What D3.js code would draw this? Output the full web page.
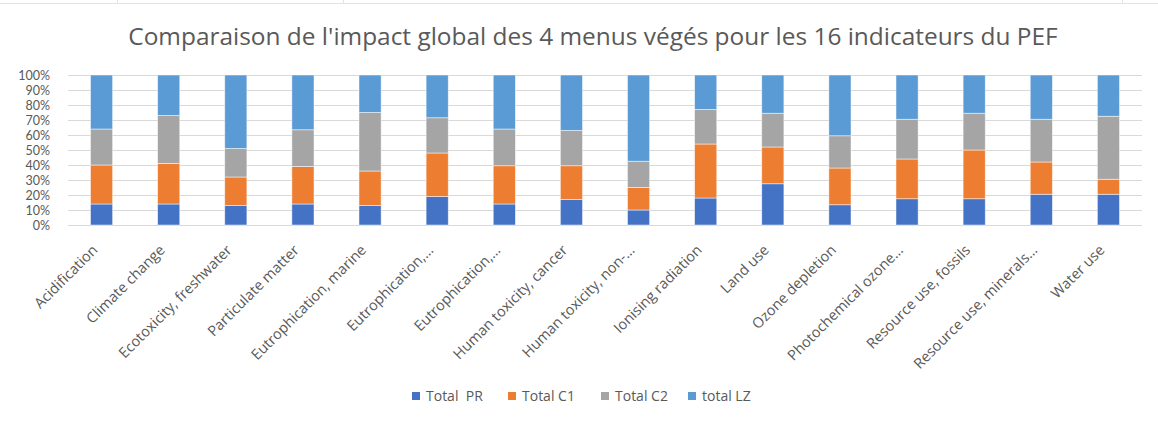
<!DOCTYPE html>
<html>
<head>
<meta charset="utf-8">
<script src="https://cdn.jsdelivr.net/npm/d3@7"></script>
<style>
  body { margin: 0; background: #fff; }
  text { font-family: "Open Sans", Lato, sans-serif; fill: #595959; }
</style>
</head>
<body>
<div id="chart"></div>
<script>
var categories = ['Acidification', 'Climate change', 'Ecotoxicity, freshwater',
    'Particulate matter', 'Eutrophication, marine', 'Eutrophication,\u2026',
    'Eutrophication,\u2026', 'Human toxicity, cancer', 'Human toxicity, non-\u2026',
    'Ionising radiation', 'Land use', 'Ozone depletion', 'Photochemical ozone\u2026',
    'Resource use, fossils', 'Resource use, minerals\u2026', 'Water use'];

var seriesNames = ['Total  PR', 'Total C1', 'Total C2', 'total LZ'];
var seriesColors = ['#4472C4', '#ED7D31', '#A5A5A5', '#5B9BD5'];

// shares in %
var totalPR = [14, 14, 13, 14, 13, 19, 14, 17, 10, 18, 27.5, 13.5, 17.5, 17.5, 20.5, 20.5];
var totalC1 = [26, 27, 19, 25, 23, 29, 25.5, 22.5, 15, 36, 24.5, 24.5, 26.5, 32.5, 21.5, 10];
var totalC2 = [24, 32, 19, 24.5, 39, 23.5, 24.5, 23.5, 17.5, 23, 22.5, 21.5, 26.5, 24.5, 28.5, 42];
var totalLZ = [36, 27, 49, 36.5, 25, 28.5, 36, 37, 57.5, 23, 25.5, 40.5, 29.5, 25.5, 29.5, 27.5];

var yTicks = [0, 10, 20, 30, 40, 50, 60, 70, 80, 90, 100];
var title = "Comparaison de l'impact global des 4 menus v\u00e9g\u00e9s pour les 16 indicateurs du PEF";

var width = 1158, height = 425;
var margin = { left: 68, right: 16, top: 75, plotH: 150 };

var svg = d3.select('#chart').append('svg')
    .attr('width', width).attr('height', height);

// faint spreadsheet cell lines behind the chart
svg.append('line').attr('x1', 0).attr('x2', width).attr('y1', 3.5).attr('y2', 3.5)
    .style('stroke', '#e3e3e3');
[117, 343, 1122].forEach(function(x) {
    svg.append('line').attr('x1', x + 0.5).attr('x2', x + 0.5).attr('y1', 0).attr('y2', 3.5)
        .style('stroke', '#e3e3e3');
});

var titleText = svg.append('text')
    .attr('x', 593).attr('y', 45)
    .attr('text-anchor', 'middle')
    .style('font-size', '22px')
    .text(title);
// Fit the title to the width it has in the picture (about 930px)
var tw = titleText.node().getComputedTextLength();
titleText.style('font-size', (22 * 930 / tw) + 'px');

var x = d3.scaleBand()
    .domain(d3.range(categories.length))
    .range([margin.left, width - margin.right])
    .paddingInner(0.67).paddingOuter(0.335);

var y = d3.scaleLinear()
    .domain([0, 100])
    .range([margin.top + margin.plotH, margin.top]);

// gridlines
svg.append('g').selectAll('line')
    .data(yTicks).enter().append('line')
    .attr('x1', margin.left).attr('x2', width - margin.right)
    .attr('y1', function(d) { return Math.round(y(d)) + 0.5; })
    .attr('y2', function(d) { return Math.round(y(d)) + 0.5; })
    .style('stroke', '#d9d9d9').style('stroke-width', 1.2);

// y axis labels (tight like in the picture, Lato keeps the boxes from touching)
var yAxis = d3.axisLeft(y).tickValues(yTicks).tickSize(0).tickPadding(0)
    .tickFormat(function(d) { return d + '%'; });
var yg = svg.append('g').attr('transform', 'translate(' + (margin.left - 18) + ',0)').call(yAxis);
yg.select('.domain').remove();
yg.selectAll('text')
    .style('font-size', '12.5px')
    .style('font-family', 'Lato, sans-serif')
    .attr('fill', null);

// stacked bars
var rows = categories.map(function(c, i) {
    return { i: i, PR: totalPR[i], C1: totalC1[i], C2: totalC2[i], LZ: totalLZ[i] };
});
var stack = d3.stack().keys(['PR', 'C1', 'C2', 'LZ'])
    .offset(d3.stackOffsetExpand);
var layers = stack(rows);

svg.append('g').selectAll('g')
    .data(layers).enter().append('g')
    .attr('fill', function(d, k) { return seriesColors[k]; })
    .selectAll('rect')
    .data(function(d) { return d; }).enter().append('rect')
    .attr('x', function(d) { return x(d.data.i); })
    .attr('width', x.bandwidth())
    .attr('y', function(d) { return y(d[1] * 100); })
    .attr('height', function(d) { return y(d[0] * 100) - y(d[1] * 100); })
    .style('stroke', '#ffffff').style('stroke-opacity', 0.6).style('stroke-width', 0.8);

// category labels
svg.append('g').selectAll('text')
    .data(categories).enter().append('text')
    .attr('transform', function(d, i) {
        return 'translate(' + (x(i) + x.bandwidth() / 2 - 3) + ',' + 251 + ') rotate(-45)';
    })
    .attr('text-anchor', 'end')
    .style('font-size', '14.5px')
    .text(function(d) { return d; });

// legend
var legendX = [412, 508, 601, 688];
var legend = svg.append('g').selectAll('g')
    .data(seriesNames).enter().append('g')
    .attr('transform', function(d, k) { return 'translate(' + legendX[k] + ',392)'; });
legend.append('rect')
    .attr('width', 8).attr('height', 8)
    .attr('fill', function(d, k) { return seriesColors[k]; });
legend.append('text')
    .attr('x', 14).attr('y', 9)
    .style('font-size', '14px')
    .style('white-space', 'pre')
    .attr('xml:space', 'preserve')
    .text(function(d) { return d; });
</script>
</body>
</html>
